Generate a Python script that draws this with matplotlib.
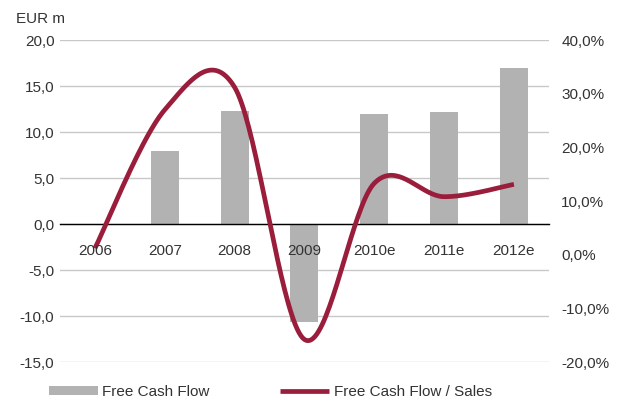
import numpy as np
import matplotlib.pyplot as plt
from matplotlib.ticker import FuncFormatter, MultipleLocator

"""
Free cash flow (EUR m) and free cash flow / sales, 2006-2012e
"""

years = ["2006", "2007", "2008", "2009", "2010e", "2011e", "2012e"]
fcf = [0.0, 7.9, 12.3, -10.6, 12.0, 12.2, 17.0]
fcf_sales = [1.2, 27.0, 31.2, -15.8, 13.3, 10.8, 13.1]

bar_col = "#b2b2b2"
line_col = "#9a1d3c"
txt_col = "#333333"

plt.rcParams['font.family'] = ['Liberation Sans', 'DejaVu Sans']
plt.rcParams['font.size'] = 11


def smooth(x, y, n=40):
    # excel-like smoothed line (bezier through the points)
    x = np.asarray(x, float)
    y = np.asarray(y, float)
    px = np.concatenate([[x[0]], x, [x[-1]]])
    py = np.concatenate([[y[0]], y, [y[-1]]])
    xs, ys = [], []
    t = np.linspace(0, 1, n)
    for i in range(len(x) - 1):
        p0 = np.array([px[i + 1], py[i + 1]])
        p3 = np.array([px[i + 2], py[i + 2]])
        c1 = p0 + (p3 - np.array([px[i], py[i]])) / 6
        c2 = p3 - (np.array([px[i + 3], py[i + 3]]) - p0) / 6
        b = ((1 - t) ** 3)[:, None] * p0 + (3 * (1 - t) ** 2 * t)[:, None] * c1 \
            + (3 * (1 - t) * t ** 2)[:, None] * c2 + (t ** 3)[:, None] * p3
        xs.append(b[:, 0])
        ys.append(b[:, 1])
    return np.concatenate(xs), np.concatenate(ys)


fig = plt.figure(figsize=(6.18, 4), dpi=100)
ax = fig.add_axes([0.0971, 0.095, 0.791, 0.805])
x = np.arange(len(years))

ax.bar(x, fcf, width=0.4, color=bar_col, zorder=2, label="Free Cash Flow")
ax.set_xlim(-0.5, len(years) - 0.5)
ax.set_ylim(-15, 20)
ax.yaxis.set_major_locator(MultipleLocator(5))
ax.yaxis.set_major_formatter(FuncFormatter(lambda v, p: f"{v:.1f}".replace(".", ",")))
ax.grid(axis="y", color="#c8c8c8", lw=1, zorder=0)
ax.set_axisbelow(True)
for s in ["top", "right", "left"]:
    ax.spines[s].set_visible(False)
ax.spines["bottom"].set_position(("data", 0))
ax.spines["bottom"].set_color("black")
ax.spines["bottom"].set_linewidth(1)
ax.spines["bottom"].set_zorder(3)
ax.set_xticks(x)
ax.set_xticklabels([])
ax.tick_params(axis="x", length=0)
ax.tick_params(axis="y", length=0, pad=4, colors=txt_col)

ax2 = ax.twinx()
sx, sy = smooth(x, fcf_sales)
ax2.plot(sx, sy, color=line_col, lw=3.4, solid_capstyle="butt", zorder=4,
         label="Free Cash Flow / Sales")
ax2.set_ylim(-20, 40)
ax2.yaxis.set_major_locator(MultipleLocator(10))
ax2.yaxis.set_major_formatter(FuncFormatter(lambda v, p: f"{v:.1f}%".replace(".", ",")))
ax2.tick_params(axis="y", length=0, pad=9, colors=txt_col)
for s in ax2.spines.values():
    s.set_visible(False)

# category labels sit under the zero line, on top of the line series
for xi, lab in zip(x, years):
    ax2.annotate(lab, xy=(xi, 0), xycoords=ax.transData, xytext=(0, -19.5),
                 textcoords="offset points", ha="center", va="center",
                 color=txt_col, fontsize=11, zorder=6)

fig.text(0.026, 0.952, "EUR m", color=txt_col, fontsize=11, va="center")

h1, l1 = ax.get_legend_handles_labels()
h2, l2 = ax2.get_legend_handles_labels()
leg = fig.legend(h1 + h2, l1 + l2, ncol=2, frameon=False, loc="center left",
                 bbox_to_anchor=(0.057, 0.02), handlelength=3.2, handleheight=0.6,
                 handletextpad=0.3, columnspacing=4.6, fontsize=11)
for t in leg.get_texts():
    t.set_color(txt_col)

plt.savefig("out.png", dpi=100)
